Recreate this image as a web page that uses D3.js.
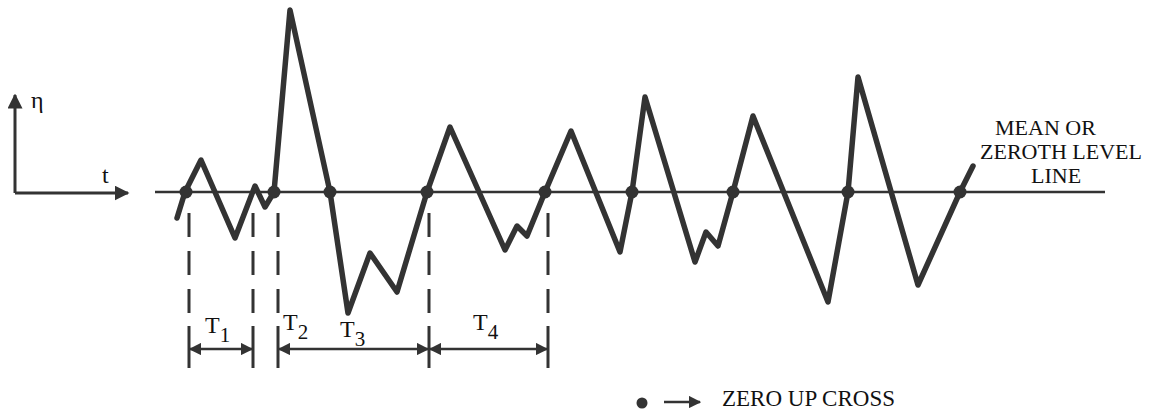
<!DOCTYPE html>
<html>
<head>
<meta charset="utf-8">
<script src="https://cdn.jsdelivr.net/npm/d3@7"></script>
<style>
  body { margin: 0; background: #fff; }
</style>
</head>
<body>
<div id="chart"></div>
<script>
  // wave record: time (t) and surface elevation (eta)
  var waveT   = [2.2, 3.0, 4.6, 8.0, 10.0, 11.0, 11.9, 13.5, 17.5, 19.3, 21.5, 24.2, 27.2, 29.5, 35.0, 36.2, 37.2, 39.0,
                 41.6, 46.5, 47.7, 49.0, 54.0, 55.1, 56.3, 57.8, 59.8, 67.3, 69.3, 70.3, 76.3, 80.5, 81.8];
  var waveEta = [-1.3, 0, 1.6, -2.3, 0.3, -0.75, 0, 9.1, 0, -6.05, -3.05, -5.0, 0, 3.25, -2.9, -1.7, -2.2, 0,
                 3.05, -3.0, 0, 4.75, -3.5, -2.0, -2.7, 0, 3.8, -5.5, 0, 5.75, -4.65, 0, 1.3];
  // marked crossings of the mean level
  var crossT = [3.1, 11.9, 17.5, 27.2, 39.0, 47.7, 57.8, 69.3, 80.5];
  // period boundaries and labels
  var edgeT = [3.4, 9.8, 12.3, 27.4, 39.3];
  var spans = [[3.4, 9.8], [12.3, 27.4], [27.4, 39.3]];
  var periodLabels = [
    { name: 'T', sub: '1', t: 5.0, dy: 0 },
    { name: 'T', sub: '2', t: 12.8, dy: -3 },
    { name: 'T', sub: '3', t: 18.5, dy: 4 },
    { name: 'T', sub: '4', t: 31.8, dy: -3 }
  ];
  var levelLines = ['MEAN OR', 'ZEROTH LEVEL', 'LINE'];
  var levelX = [995, 980, 1031];
  var legendText = 'ZERO UP CROSS';

  var width = 1161, height = 414;
  var ink = '#333';
  var serif = "'Liberation Serif', 'Times New Roman', Tinos";

  var x = d3.scaleLinear().domain([0, 95]).range([155, 1105]);
  var y = d3.scaleLinear().domain([-10, 10]).range([392, -8]);

  var svg = d3.select('#chart').append('svg')
      .attr('width', width)
      .attr('height', height);

  var defs = svg.append('defs');
  defs.append('marker')
      .attr('id', 'head')
      .attr('viewBox', '0 0 10 10')
      .attr('refX', 9).attr('refY', 5)
      .attr('markerWidth', 5).attr('markerHeight', 5)
      .attr('markerUnits', 'strokeWidth')
      .attr('orient', 'auto-start-reverse')
      .append('path')
      .attr('d', 'M0,0 L10,5 L0,10 Z')
      .attr('fill', ink);

  function label(sel) {
    return sel.style('font-family', serif).attr('fill', '#111');
  }

  // axes sketch (eta / t)
  svg.append('line')
      .attr('x1', 15).attr('y1', 193).attr('x2', 15).attr('y2', 95)
      .attr('stroke', ink).attr('stroke-width', 3)
      .attr('marker-end', 'url(#head)');
  svg.append('line')
      .attr('x1', 15).attr('y1', 193).attr('x2', 128).attr('y2', 193)
      .attr('stroke', ink).attr('stroke-width', 3)
      .attr('marker-end', 'url(#head)');
  label(svg.append('text')).attr('x', 31).attr('y', 108).attr('font-size', 24).text('η');
  label(svg.append('text')).attr('x', 102).attr('y', 183).attr('font-size', 24).text('t');

  // mean level line
  svg.append('line')
      .attr('x1', x(0)).attr('x2', x(95))
      .attr('y1', y(0)).attr('y2', y(0))
      .attr('stroke', ink).attr('stroke-width', 2.5);

  // wave
  var line = d3.line()
      .x(function(d, i) { return x(waveT[i]); })
      .y(function(d) { return y(d); });

  svg.append('path')
      .attr('d', line(waveEta))
      .attr('fill', 'none')
      .attr('stroke', ink)
      .attr('stroke-width', 5.5)
      .attr('stroke-linejoin', 'round')
      .attr('stroke-linecap', 'round');

  svg.selectAll('circle.cross')
      .data(crossT)
      .enter()
      .append('circle')
      .attr('class', 'cross')
      .attr('cx', function(d) { return x(d); })
      .attr('cy', y(0))
      .attr('r', 6.5)
      .attr('fill', ink);

  // dashed period boundaries
  svg.selectAll('line.edge')
      .data(edgeT)
      .enter()
      .append('line')
      .attr('class', 'edge')
      .attr('x1', function(d) { return x(d); })
      .attr('x2', function(d) { return x(d); })
      .attr('y1', 213).attr('y2', 320)
      .attr('stroke', ink).attr('stroke-width', 3)
      .attr('stroke-dasharray', '24,14');
  svg.selectAll('line.edgeEnd')
      .data(edgeT)
      .enter()
      .append('line')
      .attr('class', 'edgeEnd')
      .attr('x1', function(d) { return x(d); })
      .attr('x2', function(d) { return x(d); })
      .attr('y1', 326).attr('y2', 368)
      .attr('stroke', ink).attr('stroke-width', 3);

  // dimension arrows
  svg.selectAll('line.span')
      .data(spans)
      .enter()
      .append('line')
      .attr('class', 'span')
      .attr('x1', function(d) { return x(d[0]) + 1; })
      .attr('x2', function(d) { return x(d[1]) - 1; })
      .attr('y1', 349).attr('y2', 349)
      .attr('stroke', ink).attr('stroke-width', 2.5)
      .attr('marker-start', 'url(#head)')
      .attr('marker-end', 'url(#head)');

  var lab = label(svg.selectAll('text.period')
      .data(periodLabels)
      .enter()
      .append('text'))
      .attr('class', 'period')
      .attr('x', function(d) { return x(d.t); })
      .attr('y', function(d) { return 333 + d.dy; })
      .attr('font-size', 24);
  lab.append('tspan').text(function(d) { return d.name; });
  lab.append('tspan')
      .attr('dy', 9)
      .attr('font-size', 21)
      .text(function(d) { return d.sub; });

  // level line label
  label(svg.selectAll('text.level')
      .data(levelLines)
      .enter()
      .append('text'))
      .attr('class', 'level')
      .attr('x', function(d, i) { return levelX[i]; })
      .attr('y', function(d, i) { return 135 + i * 24; })
      .attr('font-size', 22)
      .text(function(d) { return d; });

  // legend
  svg.append('circle').attr('cx', 642).attr('cy', 403).attr('r', 5.5).attr('fill', ink);
  svg.append('line')
      .attr('x1', 664).attr('y1', 402).attr('x2', 700).attr('y2', 402)
      .attr('stroke', ink).attr('stroke-width', 2.5)
      .attr('marker-end', 'url(#head)');
  label(svg.append('text'))
      .attr('x', 722).attr('y', 406)
      .attr('font-size', 23)
      .text(legendText);
</script>
</body>
</html>
